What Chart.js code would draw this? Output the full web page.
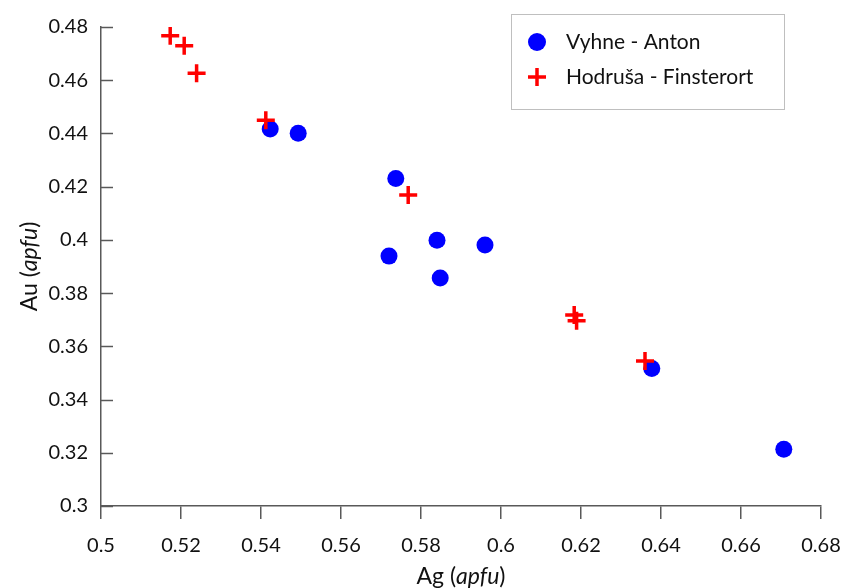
<!DOCTYPE html>
<html><head><meta charset="utf-8">
<script src="https://cdn.jsdelivr.net/npm/chart.js@4.4.1/dist/chart.umd.min.js"></script>
<style>html,body{margin:0;padding:0;background:#fff;}#wrap{width:843px;height:588px;}</style>
</head><body><div id="wrap"><canvas id="c" width="843" height="588"></canvas></div>
<script>
const seriesNames = ['Vyhne - Anton', 'Hodruša - Finsterort'];
const vyhneAg = [0.5423, 0.5493, 0.5737, 0.5720, 0.5840, 0.5848, 0.5960, 0.6377, 0.6707];
const vyhneAu = [0.4417, 0.4401, 0.4231, 0.3939, 0.3999, 0.3857, 0.3981, 0.3517, 0.3213];
const hodrusaAg = [0.5173, 0.5208, 0.5239, 0.5412, 0.5768, 0.6189, 0.6183, 0.6360];
const hodrusaAu = [0.4767, 0.4730, 0.4626, 0.4450, 0.4169, 0.3696, 0.3718, 0.3545];
const xTicks = [0.5, 0.52, 0.54, 0.56, 0.58, 0.6, 0.62, 0.64, 0.66, 0.68];
const yTicks = [0.3, 0.32, 0.34, 0.36, 0.38, 0.4, 0.42, 0.44, 0.46, 0.48];
const xTitle = ['Ag (', 'apfu', ')'];
const yTitle = ['Au (', 'apfu', ')'];

const FONT = 'Lato';
const TXT = '#111';
const AXIS = '#595959';

function toPts(xs, ys) { return xs.map((x, i) => ({ x: x, y: ys[i] })); }
function fmt(v) { return String(Number(v.toFixed(2))); }

function drawMixed(ctx, parts, cx, cy, size) {
  const fonts = parts.map((p, i) => (i === 1 ? 'italic ' : '') + size + 'px ' + FONT);
  let w = 0;
  const ws = parts.map((p, i) => { ctx.font = fonts[i]; const m = ctx.measureText(p).width; w += m; return m; });
  let x = cx - w / 2;
  ctx.textAlign = 'left';
  ctx.textBaseline = 'middle';
  parts.forEach((p, i) => { ctx.font = fonts[i]; ctx.fillText(p, x, cy); x += ws[i]; });
}

const extras = {
  id: 'extras',
  beforeDatasetsDraw(chart) {
    const ctx = chart.ctx, ys = chart.scales.y, ca = chart.chartArea;
    ctx.save();
    ctx.strokeStyle = AXIS; ctx.lineWidth = 1.5;
    yTicks.forEach(v => {
      const py = Math.round(ys.getPixelForValue(v)) + 0.5;
      ctx.beginPath(); ctx.moveTo(ca.left, py); ctx.lineTo(ca.left + 12, py); ctx.stroke();
    });
    ctx.restore();
  },
  afterDraw(chart) {
    const ctx = chart.ctx, ca = chart.chartArea;
    ctx.save();
    ctx.fillStyle = TXT;
    drawMixed(ctx, xTitle, (ca.left + ca.right) / 2, 577, 23);
    ctx.save();
    ctx.translate(30, (ca.top + ca.bottom) / 2);
    ctx.rotate(-Math.PI / 2);
    drawMixed(ctx, yTitle, 0, 0, 23);
    ctx.restore();
    // legend
    const bx = ca.right - 310, by = ca.top - 13, bw = 273, bh = 95;
    ctx.fillStyle = '#fff';
    ctx.fillRect(bx, by, bw, bh);
    ctx.strokeStyle = '#BFBFBF'; ctx.lineWidth = 1;
    ctx.strokeRect(bx + 0.5, by + 0.5, bw, bh);
    const ds = chart.data.datasets;
    ctx.fillStyle = ds[0].backgroundColor;
    ctx.beginPath(); ctx.arc(bx + 26, by + 28, 9, 0, Math.PI * 2); ctx.fill();
    ctx.strokeStyle = ds[1].borderColor; ctx.lineWidth = 3.5;
    const cx2 = bx + 26, cy2 = by + 63;
    ctx.beginPath(); ctx.moveTo(cx2 - 9, cy2); ctx.lineTo(cx2 + 9, cy2); ctx.moveTo(cx2, cy2 - 9); ctx.lineTo(cx2, cy2 + 9); ctx.stroke();
    ctx.fillStyle = TXT; ctx.font = '21px ' + FONT; ctx.textAlign = 'left'; ctx.textBaseline = 'alphabetic';
    ctx.fillText(ds[0].label, bx + 55, by + 35);
    ctx.fillText(ds[1].label, bx + 55, by + 70);
    ctx.restore();
  }
};

new Chart(document.getElementById('c'), {
  type: 'scatter',
  data: {
    datasets: [
      { label: seriesNames[0], data: toPts(vyhneAg, vyhneAu), pointStyle: 'circle', pointRadius: 8.5,
        backgroundColor: '#0000FF', borderColor: '#0000FF', borderWidth: 0, order: 2 },
      { label: seriesNames[1], data: toPts(hodrusaAg, hodrusaAu), pointStyle: 'cross', pointRadius: 9,
        backgroundColor: '#FF0000', borderColor: '#FF0000', borderWidth: 3.5, order: 1 }
    ]
  },
  options: {
    responsive: false, devicePixelRatio: 1, animation: false, events: [],
    layout: { padding: { left: 0, top: 27, right: 22, bottom: 0 } },
    plugins: { legend: { display: false }, tooltip: { enabled: false } },
    scales: {
      x: {
        type: 'linear', min: 0.5, max: 0.68,
        afterBuildTicks: s => { s.ticks = xTicks.map(v => ({ value: v })); },
        afterFit: s => { s.height = 82; s.paddingLeft = 0; s.paddingRight = 0; },
        grid: { drawOnChartArea: false, drawTicks: true, tickLength: 13, color: AXIS, lineWidth: 1.5 },
        border: { display: true, color: AXIS, width: 1.5 },
        ticks: { callback: v => fmt(v), color: TXT, font: { family: FONT, size: 20 }, padding: 15, maxRotation: 0 }
      },
      y: {
        type: 'linear', min: 0.3, max: 0.48,
        afterBuildTicks: s => { s.ticks = yTicks.map(v => ({ value: v })); },
        afterFit: s => { s.width = 101; s.paddingTop = 0; s.paddingBottom = 0; },
        grid: { drawOnChartArea: false, drawTicks: false },
        border: { display: true, color: AXIS, width: 1.5 },
        ticks: { callback: v => fmt(v), color: TXT, font: { family: FONT, size: 20 }, padding: 13 }
      }
    }
  },
  plugins: [extras]
});
</script></body></html>
